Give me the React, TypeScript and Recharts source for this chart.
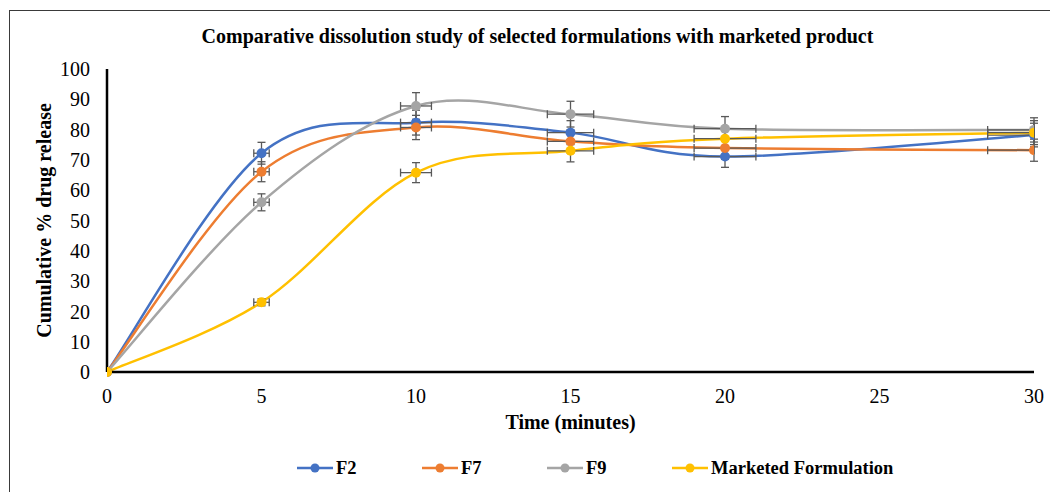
import React from 'react';
import { ComposedChart, Line, Scatter, ErrorBar, XAxis, YAxis } from 'recharts';

// sampling times (minutes)
const times = [0, 5, 10, 15, 20, 30];
// x error bars; the last one is cut at the plot edge in the original, so only its left arm shows
const timeErr: any[] = [null, 0.25, 0.5, 0.75, 1.0, [1.5, 0]];

const f2 = [0, 72.2, 82.3, 79.0, 71.1, 78.2];
const f2Err = [null, 3.6, 4.1, 3.95, 3.55, 3.9];

const f7 = [0, 66.1, 80.7, 76.1, 73.9, 73.2];
const f7Err = [null, 3.3, 4.0, 3.8, 3.7, 3.65];

const f9 = [0, 56.0, 87.8, 85.1, 80.3, 79.9];
const f9Err = [null, 2.8, 4.4, 4.25, 4.0, 4.0];

const marketed = [0, 23.0, 65.8, 73.0, 77.0, 79.0];
const marketedErr = [null, 1.15, 3.3, 3.65, 3.85, 3.95];

const xTicks = [0, 5, 10, 15, 20, 25, 30];
const yTicks = [0, 10, 20, 30, 40, 50, 60, 70, 80, 90, 100];

const series = [
  { key: 'F2', name: 'F2', values: f2, err: f2Err, color: '#4472C4' },
  { key: 'F7', name: 'F7', values: f7, err: f7Err, color: '#ED7D31' },
  { key: 'F9', name: 'F9', values: f9, err: f9Err, color: '#A5A5A5' },
  { key: 'MF', name: 'Marketed Formulation', values: marketed, err: marketedErr, color: '#FFC000' },
];

const data = times.map((t, i) => {
  const row: any = { time: t, timeErr: timeErr[i] };
  series.forEach((s) => {
    row[s.key] = s.values[i];
    row[s.key + 'Err'] = s.err[i];
  });
  return row;
});

const FONT = '"Liberation Serif", "Times New Roman", serif';
const ERR_COLOR = '#595959';

// Excel-like smoothed line (uniform Catmull-Rom as cubic beziers)
const excelSmooth = (context: any) => {
  let pts: number[][] = [];
  return {
    areaStart() {},
    areaEnd() {},
    lineStart() {
      pts = [];
    },
    point(x: number, y: number) {
      pts.push([+x, +y]);
    },
    lineEnd() {
      const n = pts.length;
      if (!n) return;
      context.moveTo(pts[0][0], pts[0][1]);
      for (let i = 0; i < n - 1; i++) {
        const p0 = pts[Math.max(i - 1, 0)];
        const p1 = pts[i];
        const p2 = pts[i + 1];
        const p3 = pts[Math.min(i + 2, n - 1)];
        context.bezierCurveTo(
          p1[0] + (p2[0] - p0[0]) / 6,
          p1[1] + (p2[1] - p0[1]) / 6,
          p2[0] - (p3[0] - p1[0]) / 6,
          p2[1] - (p3[1] - p1[1]) / 6,
          p2[0],
          p2[1]
        );
      }
    },
  };
};

const YTitle = ({ viewBox }: any) => (
  <text
    x={44}
    y={viewBox.y + viewBox.height / 2}
    transform={`rotate(-90, 44, ${viewBox.y + viewBox.height / 2})`}
    textAnchor="middle"
    dominantBaseline="central"
    fontFamily={FONT}
    fontWeight="bold"
    fontSize={20}
    fill="#000"
  >
    Cumulative % drug release
  </text>
);

const XTitle = ({ viewBox }: any) => (
  <text
    x={viewBox.x + viewBox.width / 2}
    y={429}
    textAnchor="middle"
    fontFamily={FONT}
    fontWeight="bold"
    fontSize={20}
    fill="#000"
  >
    Time (minutes)
  </text>
);

const LegendRow = () => (
  <div style={{ position: 'absolute', top: 456, left: 0, width: 1050, height: 24 }}>
    {series.map((s, i) => (
      <div
        key={s.key}
        style={{
          position: 'absolute',
          left: 297 + i * 125,
          top: 0,
          display: 'flex',
          alignItems: 'center',
          height: 24,
          whiteSpace: 'nowrap',
        }}
      >
        <svg width={36} height={12} style={{ marginRight: 3 }}>
          <line x1={0} y1={6} x2={36} y2={6} stroke={s.color} strokeWidth={2.5} />
          <circle cx={18} cy={6} r={4.5} fill={s.color} />
        </svg>
        <span style={{ fontFamily: FONT, fontWeight: 'bold', fontSize: 18.5, color: '#000' }}>{s.name}</span>
      </div>
    ))}
  </div>
);

export default function App() {
  return (
    <div
      style={{
        position: 'absolute',
        left: 0,
        top: 0,
        width: 1050,
        height: 492,
        background: '#fff',
        overflow: 'hidden',
      }}
    >
      <div
        style={{
          position: 'absolute',
          left: 9,
          top: 10,
          width: 1100,
          height: 600,
          border: '1.5px solid #3a3a3a',
        }}
      />
      <div
        style={{
          position: 'absolute',
          left: 0,
          top: 25,
          width: 1075,
          textAlign: 'center',
          fontFamily: FONT,
          fontWeight: 'bold',
          fontSize: 20,
          color: '#000',
        }}
      >
        Comparative dissolution study of selected formulations with marketed product
      </div>
      <div style={{ position: 'absolute', left: 0, top: 0 }}>
        <ComposedChart width={1050} height={492} data={data} margin={{ top: 69, right: 16, bottom: 60, left: 0 }}>
          <XAxis
            dataKey="time"
            type="number"
            domain={[0, 30]}
            ticks={xTicks}
            allowDataOverflow
            height={60}
            tickLine={false}
            tickSize={6}
            tickMargin={11}
            axisLine={{ stroke: '#000', strokeWidth: 2.5 }}
            tick={{ fill: '#000', fontSize: 20, fontFamily: FONT }}
            label={<XTitle />}
          />
          <YAxis
            type="number"
            domain={[0, 100]}
            ticks={yTicks}
            width={107}
            tickLine={false}
            tickSize={6}
            tickMargin={11}
            axisLine={{ stroke: '#000', strokeWidth: 2.5 }}
            tick={{ fill: '#000', fontSize: 20, fontFamily: FONT }}
            label={<YTitle />}
          />
          {series.map((s) => [
            <Line
              key={s.key + '-line'}
              dataKey={s.key}
              type={excelSmooth as any}
              stroke={s.color}
              strokeWidth={2.5}
              dot={{ r: 5, fill: s.color, stroke: s.color, strokeWidth: 0 }}
              activeDot={false}
              isAnimationActive={false}
            />,
            <Scatter
              key={s.key + '-err'}
              dataKey={s.key}
              shape={() => <g />}
              legendType="none"
              isAnimationActive={false}
            >
              <ErrorBar dataKey={s.key + 'Err'} direction="y" width={4} stroke={ERR_COLOR} strokeWidth={1.3} />
              <ErrorBar dataKey="timeErr" direction="x" width={4} stroke={ERR_COLOR} strokeWidth={1.3} />
            </Scatter>,
          ])}
        </ComposedChart>
      </div>
      <LegendRow />
    </div>
  );
}
